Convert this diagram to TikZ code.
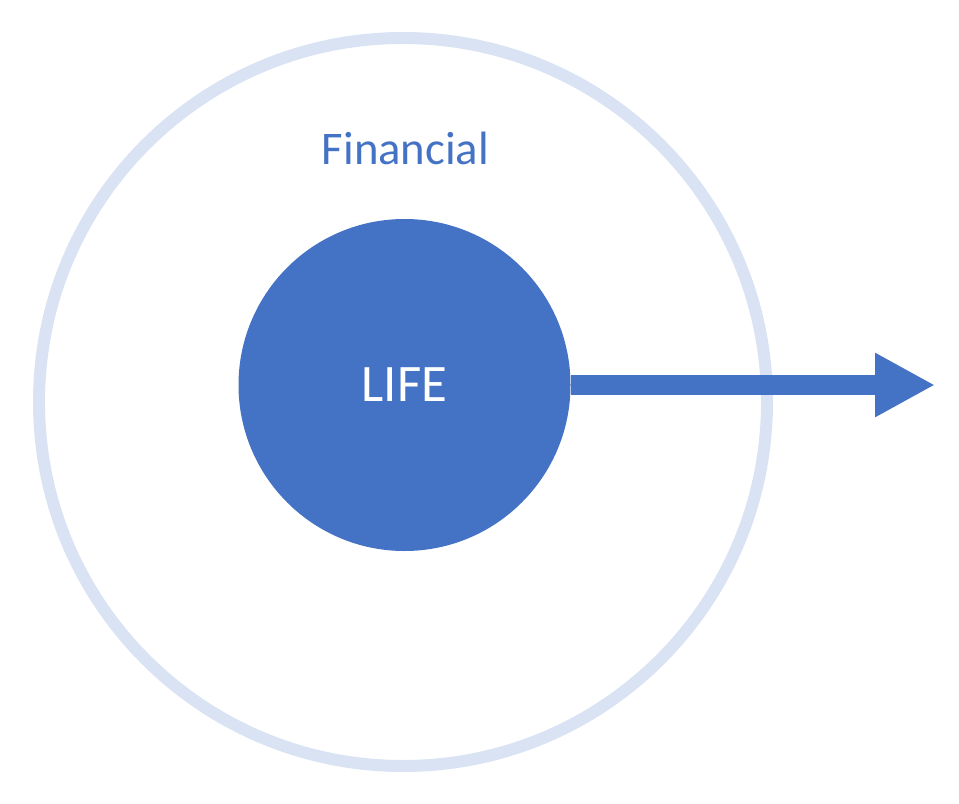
\documentclass[tikz,border=0pt]{standalone}
\usepackage{fontspec}
\setmainfont{Carlito}
\usetikzlibrary{arrows.meta}
\definecolor{lifeblue}{HTML}{4472C4}
\definecolor{ringblue}{HTML}{DAE3F3}
\begin{document}
\begin{tikzpicture}[
	ring/.style = {draw=ringblue, line width=1.2mm, circle, minimum size=7.28cm, inner sep=0pt},
	core/.style = {fill=lifeblue, circle, minimum size=3.32cm, inner sep=0pt, text=white, font=\fontsize{15}{18}\selectfont},
	flow/.style = {draw=lifeblue, line width=2mm, -{Triangle[length=6mm,width=6mm]}}
]
\useasboundingbox (0 ,0) rectangle (9.59 ,-8.03);
\node [ring] (outer) at (4.03 ,-4.02) {};
\node [text=lifeblue, anchor=base, font=\fontsize{13.3}{16}\selectfont] (fin) at (4.055 ,-1.65) {Financial};
\node [core] (life) at (4.045 ,-3.85) {LIFE};
\coordinate (tip) at (9.35 ,-3.85);
\draw [flow] (life.east) -- (tip);
\end{tikzpicture}
\end{document}
